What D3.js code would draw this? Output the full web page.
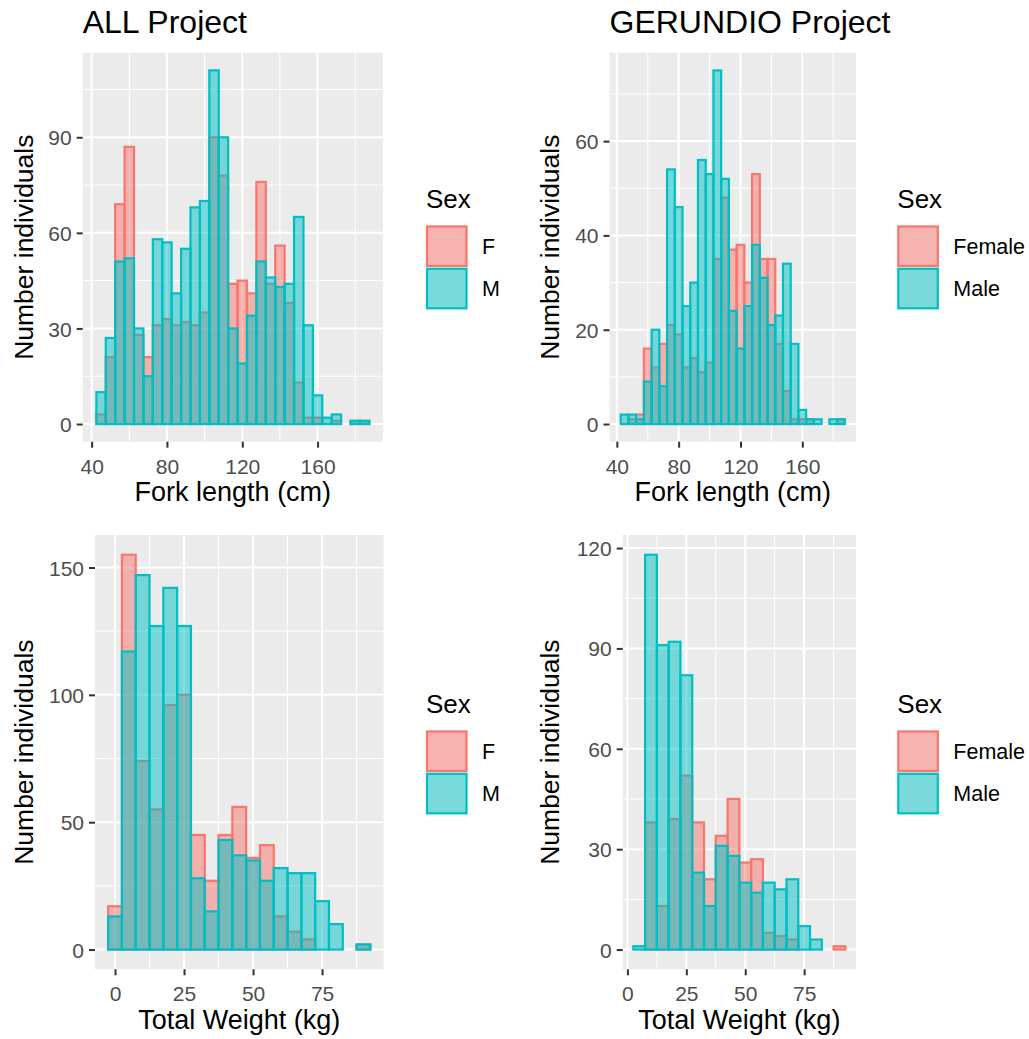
<!DOCTYPE html>
<html><head><meta charset="utf-8">
<script src="https://cdn.jsdelivr.net/npm/d3@7"></script>
<style>body{margin:0;background:#fff}svg{display:block}</style>
</head><body>
<script>
// ---------- DATA ----------
const lengthBins = [45,50,55,60,65,70,75,80,85,90,95,100,105,110,115,120,125,130,135,140,145,150,155,160,165,170,175,180,185];
const allLenF = [3,21,69,87,28,21,31,33,31,32,31,35,90,78,44,45,41,76,44,56,38,13,2,2,0,1,0,1,1];
const allLenM = [10,27,51,52,30,15,58,57,41,55,68,70,111,90,30,19,34,51,46,43,44,65,31,9,2,3,0,1,1];
const gerLenF = [0,1,2,16,12,17,21,19,12,14,11,13,35,48,37,38,30,53,35,35,17,7,1,1,1,0,0,0,1];
const gerLenM = [2,2,1,9,20,8,54,46,25,30,56,53,75,52,24,16,25,38,31,21,23,34,17,3,1,1,0,1,1];

const allWeightBins = [0,5,10,15,20,25,30,35,40,45,50,55,60,65,70,75,80,85,90];
const allWtF = [17,155,74,55,96,100,45,27,45,56,36,41,13,7,4,0,0,0,2];
const allWtM = [13,117,147,127,142,127,28,15,43,37,35,27,32,30,30,19,10,0,2];

const gerWeightBins = [5,10,15,20,25,30,35,40,45,50,55,60,65,70,75,80,85,90];
const gerWtF = [0,38,13,39,52,38,21,34,45,26,27,5,4,3,0,0,0,1];
const gerWtM = [1,118,91,92,82,23,13,31,28,20,17,20,18,21,7,3,0,0];

const binWidth = 5;
const lenTicksX = [40,80,120,160];
const wtTicksX = [0,25,50,75];
const allLenTicksY = [0,30,60,90];
const gerLenTicksY = [0,20,40,60];
const allWtTicksY = [0,50,100,150];
const gerWtTicksY = [0,30,60,90,120];

const sexLabelsAll = ["F","M"];
const sexLabelsGer = ["Female","Male"];
const titles = ["ALL Project","GERUNDIO Project"];

// ---------- STYLE ----------
const COLF = "#F8766D", COLM = "#00BFC4";
const FONT = "'Liberation Sans', Arial, sans-serif";

const W = 1029, H = 1039;
const svg = d3.select("body").append("svg").attr("width", W).attr("height", H);

const panels = [
  {bins: lengthBins, F: allLenF, M: allLenM, tx: lenTicksX, ty: allLenTicksY, labels: sexLabelsAll,
   box: {l: 82.7, r: 383, t: 52.7, b: 441.7}, xTitle: "Fork length (cm)", title: titles[0], yTitleX: 33, legX: 426},
  {bins: lengthBins, F: gerLenF, M: gerLenM, tx: lenTicksX, ty: gerLenTicksY, labels: sexLabelsGer,
   box: {l: 609.5, r: 856, t: 52.7, b: 441.7}, xTitle: "Fork length (cm)", title: titles[1], yTitleX: 559, legX: 897.3},
  {bins: allWeightBins, F: allWtF, M: allWtM, tx: wtTicksX, ty: allWtTicksY, labels: sexLabelsAll,
   box: {l: 95, r: 383.5, t: 535, b: 969.3}, xTitle: "Total Weight (kg)", title: null, yTitleX: 33, legX: 426},
  {bins: gerWeightBins, F: gerWtF, M: gerWtM, tx: wtTicksX, ty: gerWtTicksY, labels: sexLabelsGer,
   box: {l: 622.7, r: 856, t: 535, b: 969.3}, xTitle: "Total Weight (kg)", title: null, yTitleX: 559, legX: 897.3}
];

function minorTicks(ticks, dom) {
  const s = ticks[1] - ticks[0];
  const out = [];
  for (let v = ticks[0] - s / 2; v <= dom[1]; v += s) if (v >= dom[0]) out.push(v);
  return out;
}

panels.forEach((p, i) => {
  const {l, r, t, b} = p.box;
  const xmin = d3.min(p.bins) - binWidth / 2, xmax = d3.max(p.bins) + binWidth / 2;
  const xe = (xmax - xmin) * 0.05;
  const ymax = d3.max([...p.F, ...p.M]);
  const ye = ymax * 0.05;
  const x = d3.scaleLinear().domain([xmin - xe, xmax + xe]).range([l, r]);
  const y = d3.scaleLinear().domain([-ye, ymax + ye]).range([b, t]);

  const g = svg.append("g");
  g.append("rect").attr("x", l).attr("y", t).attr("width", r - l).attr("height", b - t).attr("fill", "#EBEBEB");

  const clipId = "clip" + i;
  svg.append("clipPath").attr("id", clipId).append("rect")
    .attr("x", l).attr("y", t).attr("width", r - l).attr("height", b - t);

  const grid = g.append("g").attr("clip-path", `url(#${clipId})`);
  minorTicks(p.tx, x.domain()).forEach(v => grid.append("line").attr("x1", x(v)).attr("x2", x(v)).attr("y1", t).attr("y2", b).attr("stroke", "#fff").attr("stroke-width", 1));
  minorTicks(p.ty, y.domain()).forEach(v => grid.append("line").attr("y1", y(v)).attr("y2", y(v)).attr("x1", l).attr("x2", r).attr("stroke", "#fff").attr("stroke-width", 1));
  p.tx.forEach(v => grid.append("line").attr("x1", x(v)).attr("x2", x(v)).attr("y1", t).attr("y2", b).attr("stroke", "#fff").attr("stroke-width", 2));
  p.ty.forEach(v => grid.append("line").attr("y1", y(v)).attr("y2", y(v)).attr("x1", l).attr("x2", r).attr("stroke", "#fff").attr("stroke-width", 2));

  const bars = g.append("g").attr("clip-path", `url(#${clipId})`);
  [[p.F, COLF], [p.M, COLM]].forEach(([vals, col]) => {
    bars.selectAll(null).data(p.bins.map((c, k) => ({c, v: vals[k]}))).enter().append("rect")
      .attr("x", d => x(d.c - binWidth / 2))
      .attr("width", d => x(d.c + binWidth / 2) - x(d.c - binWidth / 2))
      .attr("y", d => y(d.v))
      .attr("height", d => y(0) - y(d.v))
      .attr("fill", col).attr("fill-opacity", 0.5)
      .attr("stroke", col).attr("stroke-width", 2.2);
  });

  // axes
  const xAxis = d3.axisBottom(x).tickValues(p.tx).tickSize(6).tickPadding(6);
  const ax = g.append("g").attr("transform", `translate(0,${b})`).call(xAxis);
  const yAxis = d3.axisLeft(y).tickValues(p.ty).tickSize(6).tickPadding(5);
  const ay = g.append("g").attr("transform", `translate(${l},0)`).call(yAxis);
  [ax, ay].forEach(a => {
    a.select(".domain").remove();
    a.selectAll(".tick line").attr("stroke", "#333333").attr("stroke-width", 2);
    a.selectAll(".tick text").attr("fill", "#4D4D4D").style("font-family", FONT).style("font-size", "21px");
  });
  ax.selectAll(".tick text").attr("dy", "0.95em");
  ay.selectAll(".tick text").attr("dy", "0.36em");

  g.append("text").attr("x", (l + r) / 2).attr("y", b + 59.5).attr("text-anchor", "middle")
    .style("font-family", FONT).style("font-size", "27px").attr("fill", "#000").text(p.xTitle);
  g.append("text").attr("transform", `translate(${p.yTitleX},${(t + b) / 2}) rotate(-90)`).attr("text-anchor", "middle")
    .style("font-family", FONT).style("font-size", "26.5px").attr("fill", "#000").text("Number individuals");
  if (p.title) g.append("text").attr("x", l).attr("y", 32.7)
    .style("font-family", FONT).style("font-size", "32px").attr("fill", "#000").text(p.title);

  // legend
  const legY = i < 2 ? 208 : 713;
  const lg = g.append("g");
  lg.append("text").attr("x", p.legX).attr("y", legY).style("font-family", FONT).style("font-size", "26px").attr("fill", "#000").text("Sex");
  [COLF, COLM].forEach((col, k) => {
    const ky = legY + 17.5 + k * 42.3;
    lg.append("rect").attr("x", p.legX).attr("y", ky).attr("width", 41.5).attr("height", 41.5).attr("fill", "#F2F2F2");
    lg.append("rect").attr("x", p.legX + 1).attr("y", ky + 1).attr("width", 39.5).attr("height", 39.5)
      .attr("fill", col).attr("fill-opacity", 0.5).attr("stroke", col).attr("stroke-width", 2.2);
    lg.append("text").attr("x", p.legX + 56).attr("y", ky + 20.75).attr("dy", "0.36em")
      .style("font-family", FONT).style("font-size", "21.5px").attr("fill", "#000").text(p.labels[k]);
  });
});
</script>
</body></html>
